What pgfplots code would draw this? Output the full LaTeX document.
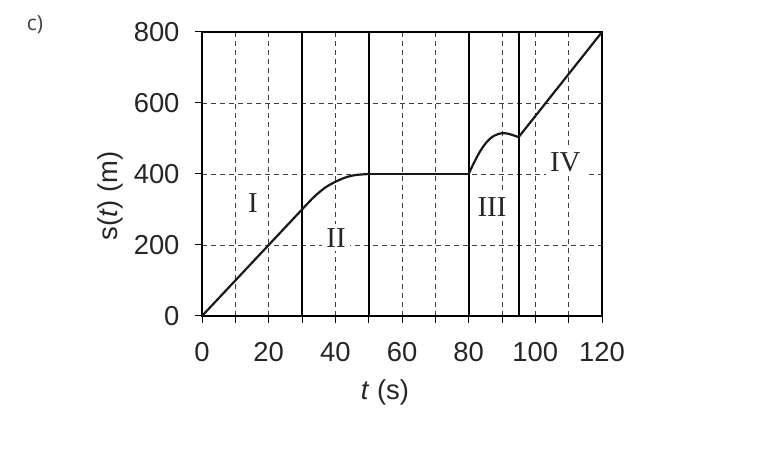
\documentclass[border=0pt]{standalone}
\usepackage{fontspec}
\setmainfont{Liberation Sans}
\newfontfamily\romanfont{Liberation Serif}
\newfontfamily\lightfont{Open Sans}
\usepackage{pgfplots}
\pgfplotsset{compat=1.18}
\begin{document}
\begin{tikzpicture}[x=1bp,y=1bp]
\useasboundingbox (0,0) rectangle (778,452);
\node[font=\lightfont\fontsize{21}{24}\selectfont, text=black!75] at (35,427) {c)};
\begin{axis}[
    at={(202bp,136bp)}, anchor=south west,
    scale only axis, width=400bp, height=284bp,
    xmin=0, xmax=120, ymin=0, ymax=800,
    xtick={0,20,...,120}, minor xtick={10,30,...,110},
    ytick={0,200,...,800},
    tick align=outside, xtick pos=bottom, ytick pos=left,
    major tick length=7bp, minor tick length=7bp,
    every tick/.style={black, line width=1bp},
    grid=both,
    major grid style={black!75, line width=0.9bp, dash pattern=on 5bp off 4bp},
    minor grid style={black!75, line width=0.9bp, dash pattern=on 5bp off 4bp},
    axis line style={line width=1.4bp},
    /pgf/number format/assume math mode=true,
    ticklabel style={font=\fontsize{27.5}{31}\selectfont, text=black!85},
    xticklabel style={yshift=-16bp},
    yticklabel style={xshift=-12bp},
    label style={font=\fontsize{27.5}{31}\selectfont, text=black!85},
    xlabel={\textit{t} (s)}, ylabel={s(\textit{t}) (m)},
    xlabel style={at={(axis description cs:0.4575,-0.268)}, anchor=center},
    ylabel style={at={(axis description cs:-0.228,0.423)}, anchor=center},
    clip=false,
]
% phase boundaries
\addplot[black, line width=1.8bp] coordinates {(30,0) (30,800)};
\addplot[black, line width=1.8bp] coordinates {(50,0) (50,800)};
\addplot[black, line width=1.8bp] coordinates {(80,0) (80,800)};
\addplot[black, line width=1.8bp] coordinates {(95,0) (95,800)};
% region labels
\node[fill=white, inner xsep=9bp, inner ysep=6bp, font=\romanfont\fontsize{29}{32}\selectfont, text=black!85] at (axis cs:15.3,318) {I};
\node[fill=white, inner sep=4bp, font=\romanfont\fontsize{29}{32}\selectfont, text=black!85] at (axis cs:40.2,220) {II};
\node[fill=white, inner sep=4bp, font=\romanfont\fontsize{29}{32}\selectfont, text=black!85] at (axis cs:87,307) {III};
\node[fill=white, inner sep=4bp, font=\romanfont\fontsize{29}{32}\selectfont, text=black!85] at (axis cs:109,434) {IV};
% s(t)
\addplot[black!90, line width=2.2bp] coordinates {(0,0) (30,300)};
\addplot[black!90, line width=2.2bp, smooth] coordinates {
    (30,300) (32,320) (34,339) (37,362) (40,378) (43,390) (46,397) (50,400)};
\addplot[black!90, line width=2.2bp] coordinates {(50,400) (80,400)};
\addplot[black!90, line width=2.2bp, smooth] coordinates {
    (80,400) (81.5,430) (83.5,465) (85.5,491) (87.5,507) (90,515) (92,513) (94,507) (95,504)};
\addplot[black!90, line width=2.2bp] coordinates {(95,504) (120,800)};
\end{axis}
\end{tikzpicture}
\end{document}
